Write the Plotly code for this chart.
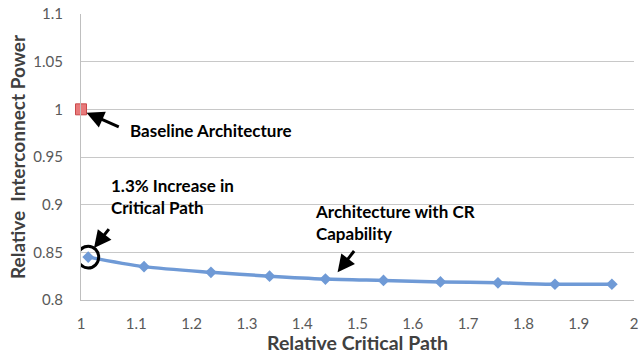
import plotly.graph_objects as go

# Data
cr_x = [1.013, 1.114, 1.235, 1.341, 1.442, 1.547, 1.650, 1.754, 1.857, 1.960]
cr_y = [0.845, 0.835, 0.829, 0.825, 0.822, 0.8205, 0.819, 0.818, 0.8165, 0.8165]
base_x = [1.0]
base_y = [1.0]
x_ticks = [1, 1.1, 1.2, 1.3, 1.4, 1.5, 1.6, 1.7, 1.8, 1.9, 2]
y_ticks = [0.8, 0.85, 0.9, 0.95, 1, 1.05, 1.1]

FONT = "Lato, Open Sans, sans-serif"

fig = go.Figure()
fig.add_trace(go.Scatter(
    x=cr_x, y=cr_y, mode="lines+markers",
    line=dict(color="#6f9ad6", width=3.5, shape="spline", smoothing=0.8),
    marker=dict(symbol="diamond", size=9, color="#6f9ad6"),
    showlegend=False, cliponaxis=False))
fig.add_trace(go.Scatter(
    x=base_x, y=base_y, mode="markers",
    marker=dict(symbol="square", size=11, color="#e8797a", line=dict(color="#c9494a", width=1)),
    showlegend=False, cliponaxis=False))

# circle around first CR point
fig.add_shape(type="circle", xref="x", yref="y",
              x0=cr_x[0] - 0.019, x1=cr_x[0] + 0.019,
              y0=cr_y[0] - 0.0115, y1=cr_y[0] + 0.0115,
              line=dict(color="black", width=3))

bold = dict(family=FONT, size=17, color="black")
# text annotations
fig.add_annotation(x=0.085, y=0.978, xref="paper", yref="y", text="<b>Baseline Architecture</b>",
                   showarrow=False, xanchor="left", yanchor="middle", font=bold)
fig.add_annotation(x=0.05, y=0.884, xref="paper", yref="y",
                   text="<b>1.3% Increase in<br>Critical Path</b>",
                   showarrow=False, xanchor="left", yanchor="bottom", align="left", font=bold)
fig.add_annotation(x=0.42, y=0.857, xref="paper", yref="y",
                   text="<b>Architecture with CR<br>Capability</b>",
                   showarrow=False, xanchor="left", yanchor="bottom", align="left", font=bold)

# arrows
def arrow(x, y, ax, ay):
    fig.add_annotation(x=x, y=y, ax=ax, ay=ay, xref="x", yref="y", axref="x", ayref="y",
                       text="", showarrow=True, arrowhead=2, arrowsize=1.15,
                       arrowwidth=3, arrowcolor="black")

arrow(1.010, 0.9965, 1.071, 0.981)
arrow(1.0235, 0.8545, 1.0525, 0.876)
arrow(1.464, 0.829, 1.496, 0.853)

fig.update_layout(
    width=639, height=354,
    margin=dict(l=81, r=5, t=14, b=54),
    plot_bgcolor="white", paper_bgcolor="white",
    font=dict(family=FONT, color="#595959"),
    xaxis=dict(range=[1, 2], tickvals=x_ticks, ticktext=[f"{v:g}" for v in x_ticks],
               showgrid=False, showline=True, linecolor="#bfbfbf", linewidth=1,
               zeroline=False, ticks="", tickfont=dict(size=15, color="#595959"),
               ticklabelstandoff=10, automargin=False,
               title=dict(text="<b>Relative Critical Path</b>",
                          font=dict(size=19.5, color="#404040"), standoff=4)),
    yaxis=dict(range=[0.8, 1.1], tickvals=y_ticks, ticktext=[f"{v:g}" for v in y_ticks],
               showgrid=True, gridcolor="#c8c8c8", gridwidth=1,
               showline=True, linecolor="#bfbfbf", linewidth=1,
               zeroline=False, ticks="", tickfont=dict(size=15, color="#595959"),
               ticklabelstandoff=14, automargin=False,
               title=dict(text="<b>Relative  Interconnect Power</b>",
                          font=dict(size=19, color="#404040"), standoff=2)),
)

fig.write_html("out.html", config={"displayModeBar": False},
               post_script="document.body.style.margin='0';")
